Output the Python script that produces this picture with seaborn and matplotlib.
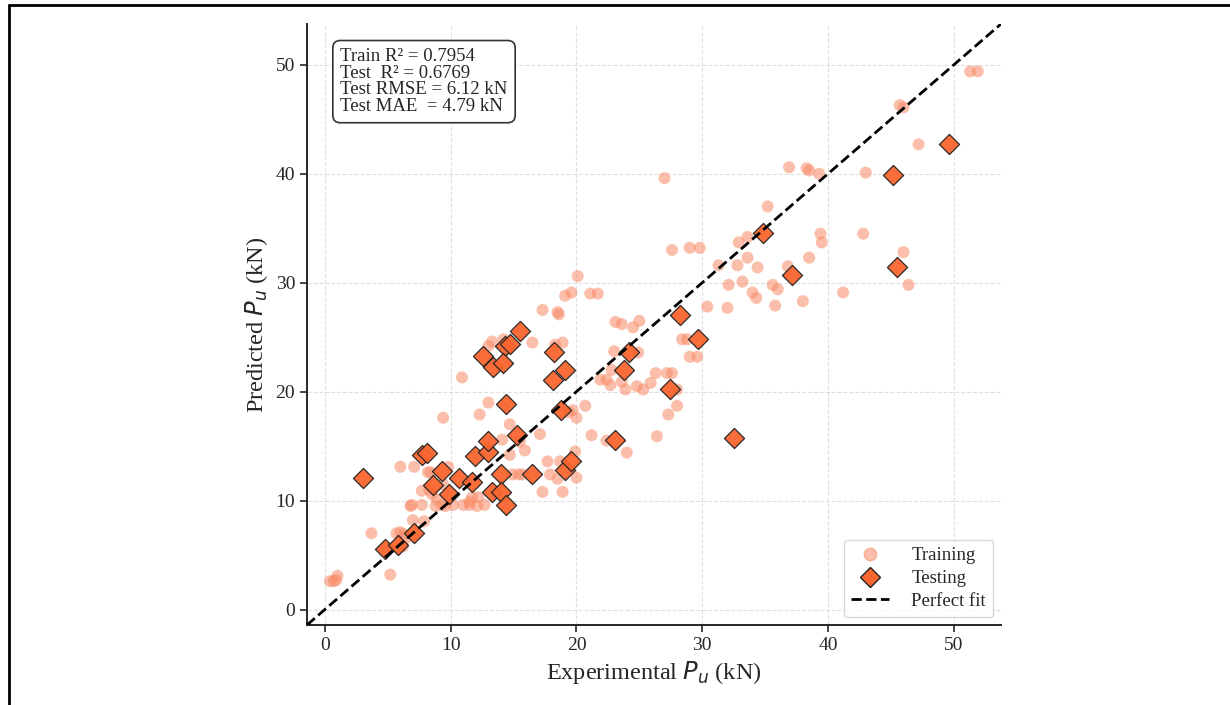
import seaborn as sns
import matplotlib.pyplot as plt
import pandas as pd
from matplotlib.lines import Line2D

# training set: experimental vs predicted (kN)
train_exp = [0.4, 0.7, 0.9, 1.0, 5.2, 3.7, 5.7, 6.3, 6.5, 6.2, 6.0, 7.0, 7.9,
             6.0, 7.1, 8.4, 9.8, 9.4, 12.3, 13.0, 10.9,
             6.8, 6.9, 7.7, 8.8, 9.3, 9.6, 10.2, 11.0, 11.5, 12.1, 12.7,
             7.7, 8.3, 8.5, 8.9, 9.4, 8.2, 11.7, 11.5, 12.2,
             14.1, 14.7, 15.9, 14.9, 15.7, 15.4,
             17.3, 18.9, 17.7, 18.7, 17.9, 18.5, 20.0, 19.9,
             24.0, 22.4, 17.1, 15.5, 14.7,
             19.4, 19.7, 20.0, 20.7, 21.2, 26.4, 27.3, 28.0,
             22.7, 23.9, 25.3, 24.8, 21.9, 22.4, 22.8, 23.6, 25.9, 26.3, 27.2, 27.6, 23.0, 24.9, 28.0,
             27.0, 27.6, 29.0, 29.8, 20.1, 19.1, 19.6, 21.1, 21.7,
             17.3, 18.5, 18.6, 16.5, 18.3, 18.9, 13.3, 13.0, 14.2,
             23.1, 23.6, 25.0, 24.5,
             28.4, 28.8, 29.0, 29.6,
             30.4, 32.0, 32.1, 31.3,
             32.9, 33.6, 39.4, 39.5, 42.8, 46.0,
             32.8, 33.6, 34.4, 36.8, 38.5,
             33.2, 34.0, 34.3, 35.6, 36.0, 35.8, 38.0, 41.2, 46.4,
             36.9, 38.3, 38.5, 39.3, 43.0, 47.2, 35.2, 45.7, 46.0, 51.3, 51.9]
train_pred = [2.6, 2.6, 2.7, 3.1, 3.2, 7.0, 7.0, 6.9, 6.6, 5.8, 7.1, 8.2, 8.1,
              13.1, 13.1, 12.6, 13.1, 17.6, 17.9, 19.0, 21.3,
              9.5, 9.6, 9.6, 9.5, 9.6, 9.5, 9.6, 9.6, 9.6, 9.5, 9.6,
              10.9, 11.0, 10.6, 10.1, 11.5, 12.6, 10.3, 9.9, 10.3,
              15.6, 14.2, 14.6, 12.4, 12.4, 12.4,
              10.8, 10.8, 13.6, 13.6, 12.4, 12.0, 12.1, 14.5,
              14.4, 15.5, 16.1, 15.4, 17.0,
              18.1, 18.3, 17.6, 18.7, 16.0, 15.9, 17.9, 18.7,
              20.6, 20.2, 20.2, 20.5, 21.1, 21.1, 22.0, 20.9, 20.8, 21.7, 21.7, 21.7, 23.7, 23.6, 20.2,
              39.6, 33.0, 33.2, 33.2, 30.6, 28.8, 29.1, 29.0, 29.0,
              27.5, 27.3, 27.1, 24.5, 24.3, 24.5, 24.6, 24.2, 24.8,
              26.4, 26.2, 26.5, 25.9,
              24.8, 24.8, 23.2, 23.2,
              27.8, 27.7, 29.8, 31.6,
              33.7, 34.2, 34.5, 33.7, 34.5, 32.8,
              31.6, 32.3, 31.4, 31.5, 32.3,
              30.1, 29.1, 28.6, 29.8, 29.4, 27.9, 28.3, 29.1, 29.8,
              40.6, 40.5, 40.3, 40.0, 40.1, 42.7, 37.0, 46.3, 46.1, 49.4, 49.4]

# testing set
test_exp = [3.0, 4.8, 5.8, 7.1, 7.7, 8.1, 8.6, 9.3, 9.9, 10.7, 11.7, 11.9, 13.0, 13.0,
            14.0, 13.3, 14.0, 14.4, 14.4, 15.3, 16.5, 19.1, 19.6, 23.1, 18.8, 27.4,
            15.5, 14.3, 14.7, 18.2, 19.1, 18.1, 24.2, 23.8, 28.2, 29.7, 12.6, 13.4, 14.2,
            34.8, 37.1, 45.5, 32.5, 49.6, 45.2]
test_pred = [12.1, 5.6, 5.9, 7.0, 14.2, 14.4, 11.4, 12.7, 10.6, 12.1, 11.7, 14.1, 14.5, 15.5,
             12.4, 10.8, 10.8, 9.6, 18.9, 16.0, 12.4, 12.8, 13.6, 15.6, 18.3, 20.2,
             25.6, 24.2, 24.4, 23.6, 22.0, 21.1, 23.6, 22.0, 27.0, 24.8, 23.3, 22.3, 22.6,
             34.6, 30.7, 31.4, 15.7, 42.7, 39.9]

train = pd.DataFrame({"exp": train_exp, "pred": train_pred})
test = pd.DataFrame({"exp": test_exp, "pred": test_pred})

sns.set_style("ticks")
plt.rcParams['font.family'] = ['Liberation Serif', 'DejaVu Serif']
plt.rcParams['mathtext.fontset'] = 'dejavusans'

fig = plt.figure(figsize=(12.3, 7.05), dpi=100)
ax = fig.add_axes([0.2496, 0.1135, 0.5642, 0.8525])

sns.scatterplot(data=train, x="exp", y="pred", ax=ax, color="#f98a66", alpha=0.55,
                s=75, edgecolor="none", zorder=2)
sns.scatterplot(data=test, x="exp", y="pred", ax=ax, color="#f9652f", marker="D",
                s=105, edgecolor="#222222", linewidth=0.9, alpha=0.95, zorder=3)

lo, hi = -1.42, 53.75
ax.plot([lo, hi], [lo, hi], "k--", lw=2, zorder=4)
ax.set_xlim(lo, hi)
ax.set_ylim(lo, hi)
ax.set_xticks(range(0, 51, 10))
ax.set_yticks(range(0, 51, 10))
ax.grid(True, ls="--", color="#cccccc", alpha=0.6, lw=0.8)
sns.despine(ax=ax)
ax.spines["left"].set_linewidth(1.4)
ax.spines["bottom"].set_linewidth(1.4)
ax.tick_params(labelsize=14, length=5, width=1.2)

ax.set_xlabel("Experimental $P_u$ (kN)", fontsize=17.5)
ax.set_ylabel("Predicted $P_u$ (kN)", fontsize=17.5)

ax.text(0.048, 0.96,
        "Train R² = 0.7954\nTest  R² = 0.6769\nTest RMSE = 6.12 kN\nTest MAE  = 4.79 kN",
        transform=ax.transAxes, fontsize=13.5, va="top", ha="left", linespacing=0.98,
        bbox=dict(boxstyle="round,pad=0.4", facecolor="white", edgecolor="#333333", lw=1.2))

handles = [
    Line2D([], [], marker="o", ls="none", color="#f98a66", alpha=0.55, markersize=9),
    Line2D([], [], marker="D", ls="none", markerfacecolor="#f9652f",
           markeredgecolor="#222222", markersize=10),
    Line2D([], [], color="k", ls="--", lw=2),
]
ax.legend(handles, ["Training", "Testing", "Perfect fit"], loc="lower right",
          fontsize=13.5, frameon=True, edgecolor="#cccccc", borderaxespad=0.4,
          handletextpad=1.2, labelspacing=0.3)

# page border left and top
fig.add_artist(Line2D([8.5 / 1230, 8.5 / 1230], [0, 1 - 4.5 / 705], color="k", lw=2))
fig.add_artist(Line2D([8.5 / 1230, 1], [1 - 4.5 / 705, 1 - 4.5 / 705], color="k", lw=2))

fig.savefig("out.png", dpi=100)
